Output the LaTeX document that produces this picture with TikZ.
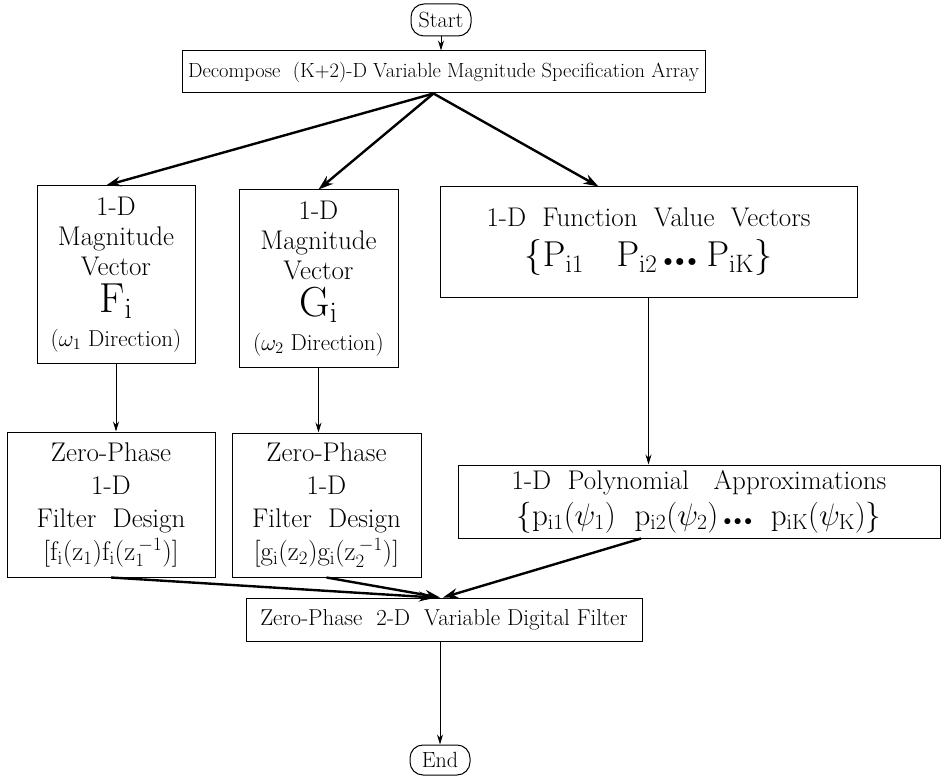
\RequirePackage{fix-cm}
\documentclass[tikz,border=0pt]{standalone}
\usetikzlibrary{arrows.meta,calc}
\begin{document}
\begin{tikzpicture}[x=1pt,y=-1pt,
  box/.style={draw,line width=1pt,inner sep=1pt,align=center,font=\fontsize{20.5}{24}\selectfont},
  term/.style={box,rounded corners=13pt,font=\fontsize{22}{24}\selectfont},
  vecbox/.style={box,font=\fontsize{27}{30}\selectfont},
  zbox/.style={box,font=\fontsize{27}{33}\selectfont},
  thin/.style={line width=0.9pt,-{Stealth[length=10pt,width=6pt]}},
  thick/.style={line width=2.4pt,-{Stealth[length=15pt,width=10pt]}}]
\useasboundingbox (0,0) rectangle (948,778);
\node[term,minimum width=60pt,minimum height=32pt] (start) at (441,20) {Start};
\node[box,minimum width=523pt,minimum height=42pt] (dec) at (443.5,72) {Decompose\ \ (K+2)-D Variable Magnitude Specification Array};
\node[vecbox,minimum width=158pt,minimum height=177pt] (F) at (116,274.5)
  {1-D\\ Magnitude\\ Vector\\[7pt] {\fontsize{42}{42}\selectfont F$_{\mathrm{i}}$}\\[4pt] {\fontsize{23}{25}\selectfont ($\omega_1$ Direction)}};
\node[vecbox,minimum width=159pt,minimum height=177pt] (G) at (318.5,278.5)
  {1-D\\ Magnitude\\ Vector\\[7pt] {\fontsize{42}{42}\selectfont G$_{\mathrm{i}}$}\\[4pt] {\fontsize{23}{25}\selectfont ($\omega_2$ Direction)}};
\node[box,minimum width=417pt,minimum height=110pt,font=\fontsize{27}{30}\selectfont] (P) at (648.5,242)
  {1-D\ \ Function\ \ Value\ \ Vectors\\[10pt] {\fontsize{36}{38}\selectfont $\{\mathrm{P}_{\mathrm{i1}}\ \ \ \mathrm{P}_{\mathrm{i2}}\,{\scriptscriptstyle\bullet\,\bullet\,\bullet}\;\mathrm{P}_{\mathrm{iK}}\}$}};
\node[zbox,minimum width=208pt,minimum height=145pt] (ZF) at (111,504.5)
  {Zero-Phase\\ 1-D\\ Filter\ \ Design\\ $[\mathrm{f}_{\mathrm{i}}(\mathrm{z}_1)\mathrm{f}_{\mathrm{i}}(\mathrm{z}_1^{\,-1})]$};
\node[zbox,minimum width=189pt,minimum height=144pt] (ZG) at (326.5,505)
  {Zero-Phase\\ 1-D\\ Filter\ \ Design\\ $[\mathrm{g}_{\mathrm{i}}(\mathrm{z}_2)\mathrm{g}_{\mathrm{i}}(\mathrm{z}_2^{\,-1})]$};
\node[box,minimum width=482pt,minimum height=73pt,font=\fontsize{27}{28}\selectfont] (poly) at (699,501.5)
  {1-D\ \ Polynomial\ \ \ Approximations\\[6pt] {\fontsize{31}{33}\selectfont $\{\mathrm{p}_{\mathrm{i1}}(\psi_1)\ \ \mathrm{p}_{\mathrm{i2}}(\psi_2)\,{\scriptscriptstyle\bullet\,\bullet\,\bullet}\ \ \mathrm{p}_{\mathrm{iK}}(\psi_{\mathrm{K}})\}$}};
\node[box,minimum width=396pt,minimum height=43pt,font=\fontsize{23}{25}\selectfont] (fin) at (444,619.5) {Zero-Phase\ \ 2-D\ \ Variable Digital Filter};
\node[term,minimum width=60pt,minimum height=30pt] (end) at (440,760) {End};
\coordinate (fan) at ($(dec.south)+(-10,0)$);
\coordinate (conv) at ($(fin.north)+(-4,0)$);
\draw[thin] (start) -- (start |- dec.north);
\draw[thick] (fan) -- ($(F.north)+(-10,0)$);
\draw[thick] (fan) -- (G.north);
\draw[thick] (fan) -- ($(P.north)+(-50,0)$);
\draw[thin] (F.south) -- (F.south |- ZF.north);
\draw[thin] (G.south) -- (G.south |- ZG.north);
\draw[thin] (P.south) -- (P.south |- poly.north);
\draw[thick] (ZF.south) -- ($(conv)+(-6,0)$);
\draw[thick] (ZG.south) -- (conv);
\draw[thick] ($(poly.south)+(-58,0)$) -- ($(conv)+(3,0)$);
\draw[thin] (conv |- fin.south) -- (end);
\end{tikzpicture}
\end{document}
